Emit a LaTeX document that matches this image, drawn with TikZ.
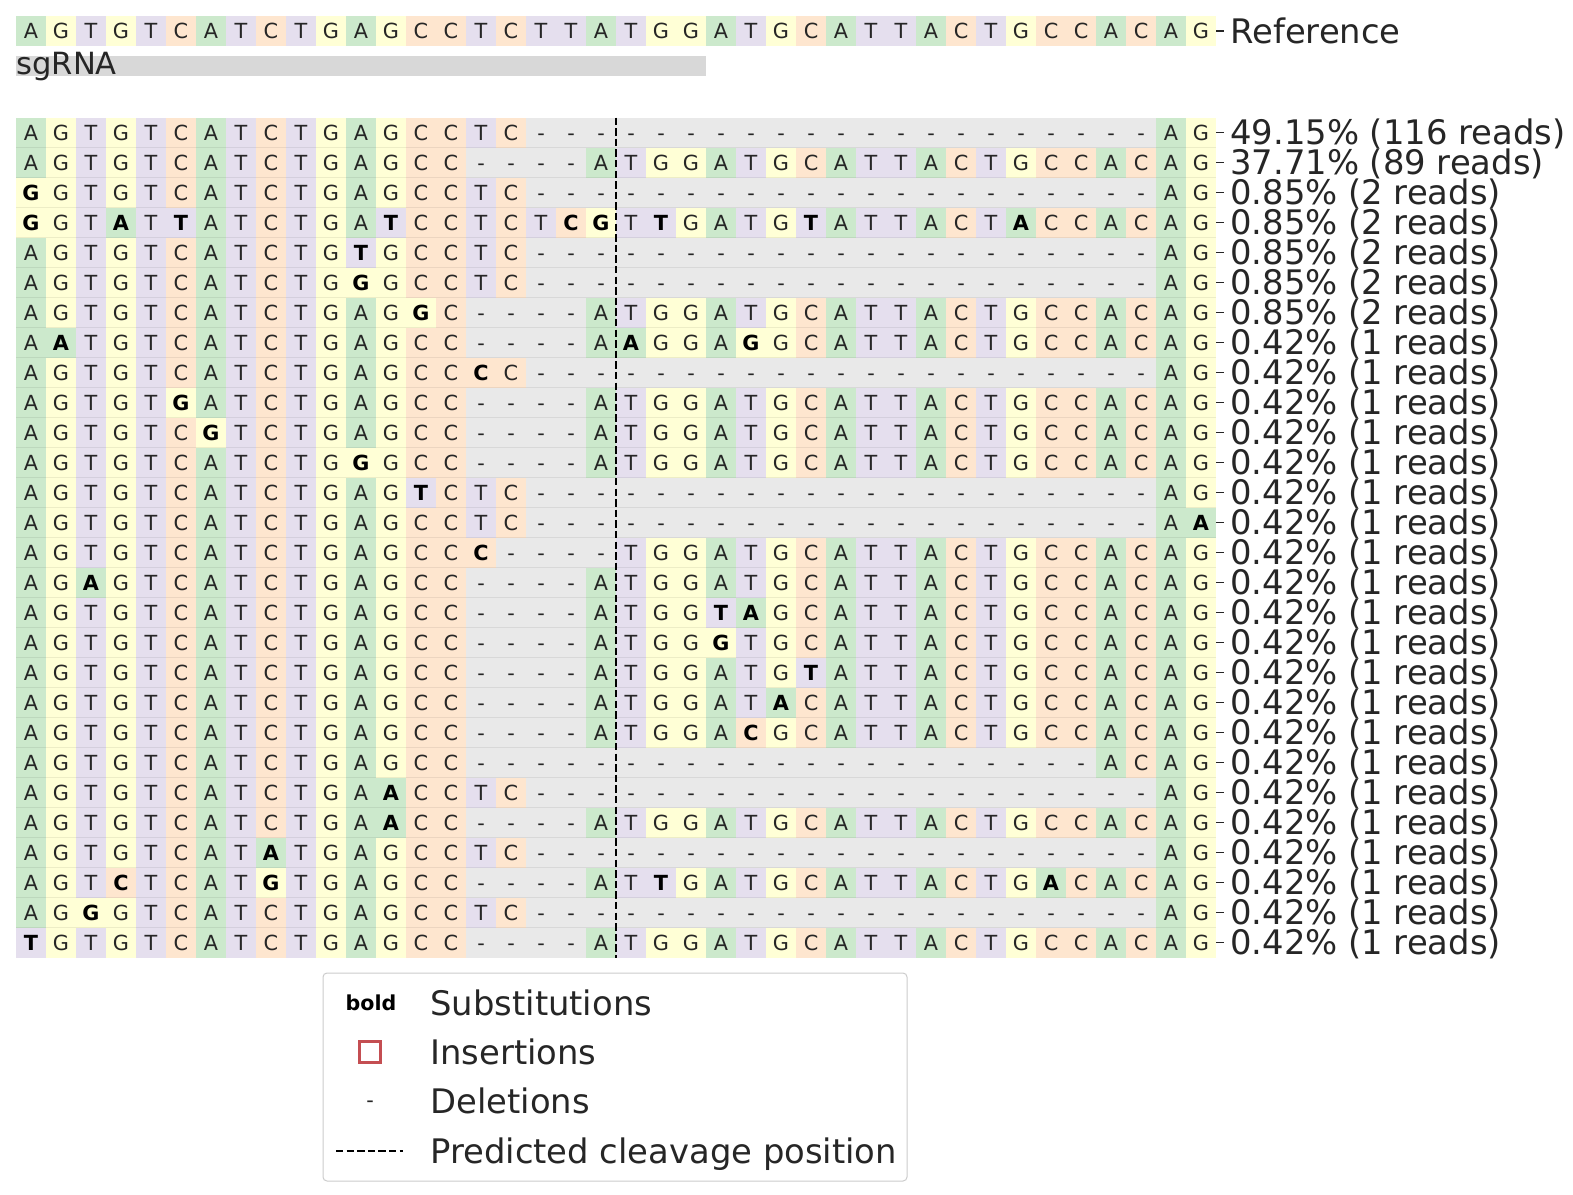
\documentclass[tikz,border=0pt]{standalone}
\usepackage{fontspec}
\setmainfont{DejaVu Sans}
\definecolor{nA}{HTML}{CCE9CC}
\definecolor{nT}{HTML}{E5DFEE}
\definecolor{nC}{HTML}{FEE6CF}
\definecolor{nG}{HTML}{FFFFD6}
\definecolor{nGap}{HTML}{E9E9E9}
\definecolor{txt}{HTML}{262626}
\definecolor{sgbar}{HTML}{D8D8D8}
\definecolor{insred}{HTML}{C44E52}
\definecolor{legbd}{HTML}{CCCCCC}

\newcount\mycol
\newcommand\basedef[3]{%
 \expandafter\def\csname cf@#1\endcsname{#3}%
 \expandafter\def\csname cf@#2\endcsname{#3}%
 \expandafter\def\csname ct@#1\endcsname{#1}%
 \expandafter\def\csname ct@#2\endcsname{#1}%
 \expandafter\def\csname cb@#1\endcsname{\color{txt}}%
 \expandafter\def\csname cb@#2\endcsname{\bfseries\color{black}}}
\basedef Aa{nA}
\basedef Tt{nT}
\basedef Cc{nC}
\basedef Gg{nG}
\expandafter\def\csname cf@-\endcsname{nGap}
\expandafter\def\csname ct@-\endcsname{-}
\expandafter\def\csname cb@-\endcsname{\color{txt}}

\def\drawcell#1{%
  \global\advance\mycol by 1\relax
  \edef\cx{\the\numexpr 16+30*(\mycol-1)\relax}%
  \edef\cfill{\csname cf@#1\endcsname}%
  \fill[fill=\cfill] (\cx,\rowtop) rectangle ++(30.3,30);%
  \node[cell] (c\rowid-\the\mycol) at (\cx+15,\rowtop+22.6) {\csname cb@#1\endcsname\csname ct@#1\endcsname};%
}
\def\seqloop#1{\ifx#1\relax\else\drawcell#1\expandafter\seqloop\fi}
\def\drawseq#1{\global\mycol=0\relax\edef\seqstr{#1}\expandafter\seqloop\seqstr\relax}
\def\Dl{---------------------}
\def\Fu{ATGGATGCATTACTGCCACAG}
\newcommand\allele[3]{%
  \def\rowid{#1}%
  \pgfmathsetmacro\rowtop{117.5+30*(#1-1)}%
  \drawseq{#2}%
  \pgfmathsetmacro\rowmid{\rowtop+15}%
  \draw[tickmk] (1216,\rowmid) -- (1223.5,\rowmid);
  \node[lab] (lab#1) at (1230,\rowmid+12.3) {#3};
}

\begin{document}
\begin{tikzpicture}[x=0.5pt,y=-0.5pt,
  cell/.style={inner sep=0pt, anchor=base, font=\fontsize{10.4}{12}\selectfont},
  lab/.style={inner sep=0pt, anchor=base west, text=txt, font=\fontsize{16.9}{20}\selectfont},
  tickmk/.style={draw=txt, line width=0.8pt},
  cleave/.style={draw=black, line width=0.75pt, dash pattern=on 3.7pt off 1.6pt},
  sepline/.style={draw=black, opacity=0.07, line width=0.6pt},
  legbox/.style={draw=legbd, line width=0.5pt, rounded corners=2pt, fill=white}]
\useasboundingbox (0,0) rectangle (1573,1194);
\fill[white] (0,0) rectangle (1573,1194);

% reference
\def\rowid{ref}\def\rowtop{16}
\drawseq{AGTGTCATCTGAGCCTCTTATGGATGCATTACTGCCACAG}
\draw[tickmk] (1216,31) -- (1223.5,31);
\node[lab] (labref) at (1230,43.3) {Reference};

% sgRNA
\fill[sgbar] (16,56) rectangle (706,76);
\node[inner sep=0pt, anchor=base west, text=txt, font=\fontsize{15.3}{18}\selectfont] (sgrna) at (16,74) {sgRNA};

% alleles
\allele{1}{AGTGTCATCTGAGCCTC\Dl AG}{49.15\% (116 reads)}
\allele{2}{AGTGTCATCTGAGCC----\Fu}{37.71\% (89 reads)}
\allele{3}{gGTGTCATCTGAGCCTC\Dl AG}{0.85\% (2 reads)}
\allele{4}{gGTaTtATCTGAtCCTCTcgTtGATGtATTACTaCCACAG}{0.85\% (2 reads)}
\allele{5}{AGTGTCATCTGtGCCTC\Dl AG}{0.85\% (2 reads)}
\allele{6}{AGTGTCATCTGgGCCTC\Dl AG}{0.85\% (2 reads)}
\allele{7}{AGTGTCATCTGAGgC----\Fu}{0.85\% (2 reads)}
\allele{8}{AaTGTCATCTGAGCC----AaGGAgGCATTACTGCCACAG}{0.42\% (1 reads)}
\allele{9}{AGTGTCATCTGAGCCcC\Dl AG}{0.42\% (1 reads)}
\allele{10}{AGTGTgATCTGAGCC----\Fu}{0.42\% (1 reads)}
\allele{11}{AGTGTCgTCTGAGCC----\Fu}{0.42\% (1 reads)}
\allele{12}{AGTGTCATCTGgGCC----\Fu}{0.42\% (1 reads)}
\allele{13}{AGTGTCATCTGAGtCTC\Dl AG}{0.42\% (1 reads)}
\allele{14}{AGTGTCATCTGAGCCTC\Dl Aa}{0.42\% (1 reads)}
\allele{15}{AGTGTCATCTGAGCCc----TGGATGCATTACTGCCACAG}{0.42\% (1 reads)}
\allele{16}{AGaGTCATCTGAGCC----\Fu}{0.42\% (1 reads)}
\allele{17}{AGTGTCATCTGAGCC----ATGGtaGCATTACTGCCACAG}{0.42\% (1 reads)}
\allele{18}{AGTGTCATCTGAGCC----ATGGgTGCATTACTGCCACAG}{0.42\% (1 reads)}
\allele{19}{AGTGTCATCTGAGCC----ATGGATGtATTACTGCCACAG}{0.42\% (1 reads)}
\allele{20}{AGTGTCATCTGAGCC----ATGGATaCATTACTGCCACAG}{0.42\% (1 reads)}
\allele{21}{AGTGTCATCTGAGCC----ATGGAcGCATTACTGCCACAG}{0.42\% (1 reads)}
\allele{22}{AGTGTCATCTGAGCC\Dl ACAG}{0.42\% (1 reads)}
\allele{23}{AGTGTCATCTGAaCCTC\Dl AG}{0.42\% (1 reads)}
\allele{24}{AGTGTCATCTGAaCC----\Fu}{0.42\% (1 reads)}
\allele{25}{AGTGTCATaTGAGCCTC\Dl AG}{0.42\% (1 reads)}
\allele{26}{AGTcTCATgTGAGCC----ATtGATGCATTACTGaCACAG}{0.42\% (1 reads)}
\allele{27}{AGgGTCATCTGAGCCTC\Dl AG}{0.42\% (1 reads)}
\allele{28}{tGTGTCATCTGAGCC----\Fu}{0.42\% (1 reads)}

% faint row separators
\foreach \r in {2,...,28}{
  \draw[sepline] (16,{117.5+30*(\r-1)}) -- (1216,{117.5+30*(\r-1)});
}

% predicted cleavage position
\coordinate (cuttop) at (616,117.5);
\coordinate (cutbot) at (616,957.5);
\draw[cleave] (cuttop) -- (cutbot);

% legend
\draw[legbox] (323,973) rectangle (907,1181);
\node[inner sep=0pt, anchor=base, font=\fontsize{10.3}{12}\selectfont\bfseries] (legbold) at (371,1010.5) {bold};
\node[draw=insred, line width=1.5pt, minimum size=10.5pt, inner sep=0pt] (legins) at (370,1051.5) {};
\node[cell, text=txt] (legdel) at (370,1107) {-};
\coordinate (legdashA) at (336,1151);
\coordinate (legdashB) at (403,1151);
\draw[cleave] (legdashA) -- (legdashB);
\node[lab] (legt1) at (430,1015.3) {Substitutions};
\node[lab] (legt2) at (430,1064.6) {Insertions};
\node[lab] (legt3) at (430,1113.9) {Deletions};
\node[lab] (legt4) at (430,1163.2) {Predicted cleavage position};
\end{tikzpicture}
\end{document}
